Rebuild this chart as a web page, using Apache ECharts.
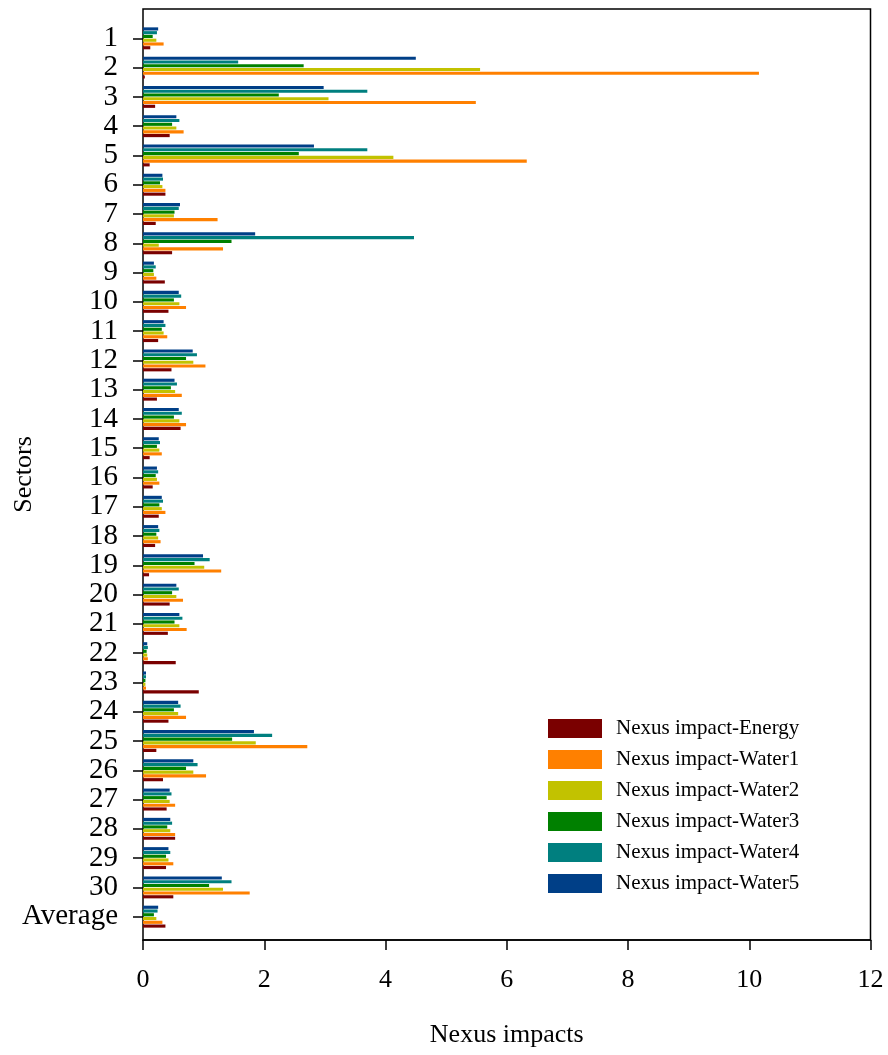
<!DOCTYPE html>
<html>
<head>
<meta charset="utf-8">
<script src="https://cdn.jsdelivr.net/npm/echarts@6/dist/echarts.min.js"></script>
<style>html,body{margin:0;padding:0;background:#fff;}#c{width:888px;height:1055px;}</style>
</head>
<body>
<div id="c"></div>
<script>
const categories = ['1','2','3','4','5','6','7','8','9','10','11','12','13','14','15','16','17','18','19','20','21','22','23','24','25','26','27','28','29','30','Average'];
const seriesNames = ['Nexus impact-Energy','Nexus impact-Water1','Nexus impact-Water2','Nexus impact-Water3','Nexus impact-Water4','Nexus impact-Water5'];
const seriesColors = ['#7a0000','#ff8000','#c2c200','#008000','#007f7f','#003f87'];
const energy = [0.12,0.03,0.20,0.44,0.11,0.37,0.21,0.48,0.36,0.42,0.25,0.47,0.23,0.62,0.11,0.16,0.26,0.20,0.10,0.44,0.41,0.54,0.92,0.42,0.22,0.33,0.39,0.53,0.38,0.50,0.37];
const water1 = [0.34,10.16,5.49,0.67,6.33,0.37,1.23,1.32,0.22,0.71,0.40,1.03,0.64,0.71,0.31,0.27,0.37,0.29,1.29,0.66,0.72,0.08,0.05,0.71,2.71,1.04,0.53,0.53,0.50,1.76,0.32];
const water2 = [0.22,5.56,3.06,0.55,4.13,0.32,0.51,0.26,0.18,0.60,0.34,0.83,0.53,0.60,0.27,0.23,0.31,0.25,1.01,0.55,0.60,0.07,0.04,0.58,1.86,0.83,0.44,0.45,0.42,1.32,0.22];
const water3 = [0.16,2.65,2.24,0.48,2.57,0.28,0.52,1.46,0.17,0.51,0.31,0.71,0.46,0.51,0.23,0.21,0.27,0.22,0.85,0.48,0.52,0.06,0.04,0.51,1.47,0.71,0.39,0.40,0.38,1.09,0.18];
const water4 = [0.23,1.57,3.70,0.60,3.70,0.33,0.59,4.47,0.21,0.63,0.37,0.89,0.56,0.64,0.28,0.25,0.33,0.27,1.10,0.59,0.65,0.08,0.05,0.62,2.13,0.90,0.47,0.48,0.45,1.46,0.24];
const water5 = [0.25,4.50,2.98,0.55,2.82,0.32,0.61,1.85,0.18,0.59,0.34,0.82,0.52,0.59,0.26,0.23,0.31,0.25,0.99,0.55,0.60,0.07,0.05,0.58,1.83,0.83,0.44,0.45,0.42,1.30,0.25];
const xTicks = {min: 0, max: 12, interval: 2};

const allData = [energy, water1, water2, water3, water4, water5];
const font = 'Liberation Serif, Times New Roman, serif';

// Draw order reversed so that Energy sits at the bottom of each group (as in the reference)
const series = allData.map((d, i) => ({
  name: seriesNames[i],
  type: 'bar',
  xAxisIndex: 1,
  yAxisIndex: 1,
  data: d,
  barCategoryGap: '25%',
  barGap: '20%',
  itemStyle: {color: seriesColors[i]},
  emphasis: {disabled: true}
})).reverse();

const chart = echarts.init(document.getElementById('c'), null, {renderer: 'canvas'});
chart.setOption({
  animation: false,
  backgroundColor: '#fff',
  textStyle: {fontFamily: font, color: '#000'},
  legend: {
    orient: 'vertical',
    left: 548,
    top: 718,
    itemWidth: 54,
    itemHeight: 19,
    itemGap: 10,
    padding: 0,
    icon: 'rect',
    data: seriesNames,
    textStyle: {fontFamily: font, fontSize: 21, color: '#000', padding: [0, 0, 0, 9]}
  },
  grid: [
    {left: 143, right: 17.5, top: 9, bottom: 115, show: true, borderColor: '#000', borderWidth: 1.5, backgroundColor: 'transparent', containLabel: false, outerBoundsMode: 'none'},
    {left: 143, right: 17.5, top: 23.7, bottom: 123.7, containLabel: false, outerBoundsMode: 'none'}
  ],
  xAxis: [
    {
      gridIndex: 0, type: 'value', min: xTicks.min, max: xTicks.max, interval: xTicks.interval,
      axisLine: {show: true, lineStyle: {color: '#000', width: 1.5}},
      axisTick: {show: true, length: 10, lineStyle: {color: '#000', width: 1.5}},
      axisLabel: {fontFamily: font, fontSize: 26, color: '#000', margin: 27},
      splitLine: {show: false},
      name: 'Nexus impacts', nameLocation: 'middle', nameGap: 82,
      nameTextStyle: {fontFamily: font, fontSize: 26, color: '#000'}
    },
    {
      gridIndex: 1, type: 'value', min: xTicks.min, max: xTicks.max, interval: xTicks.interval, show: false
    }
  ],
  yAxis: [
    {
      gridIndex: 0, type: 'value', min: 0, max: 1,
      axisLine: {show: false}, axisTick: {show: false}, axisLabel: {show: false}, splitLine: {show: false},
      name: 'Sectors', nameLocation: 'middle', nameGap: 106, nameRotate: 90,
      nameTextStyle: {fontFamily: font, fontSize: 26, color: '#000'}
    },
    {
      gridIndex: 1, type: 'category', data: categories, inverse: true,
      axisLine: {show: false},
      axisTick: {show: true, alignWithLabel: true, length: 10, lineStyle: {color: '#000', width: 1.5}},
      axisLabel: {fontFamily: font, fontSize: 29, color: '#000', margin: 25, interval: 0},
      splitLine: {show: false}
    }
  ],
  series: series
});
</script>
</body>
</html>
